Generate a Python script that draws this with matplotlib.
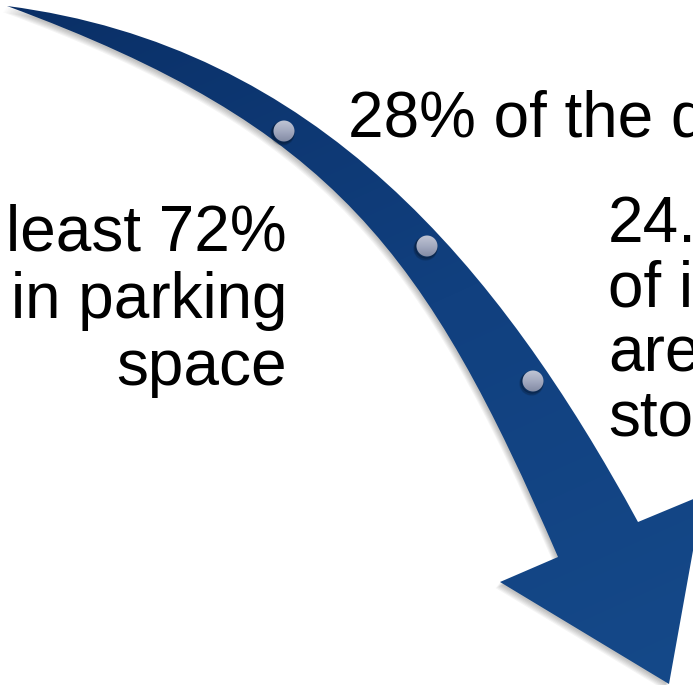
import numpy as np
import matplotlib
matplotlib.use('Agg')
import matplotlib.pyplot as plt
from matplotlib.path import Path
from matplotlib.patches import PathPatch, Circle
from matplotlib.transforms import Affine2D
from matplotlib.colors import LinearSegmentedColormap

W, H = 693, 685

# text of the three callouts
top_line = "28% of the downtown"
left_lines = ["least 72%", "in parking", "space"]
right_lines = ["24.6%", "of its", "area", "storage"]

# arrow geometry (pixel space, y down): two cubic edges and the head
upper_edge = [(7, 6), (317, 46), (499, 267), (638, 522)]
lower_edge = [(7, 6), (335, 127), (426, 253), (558, 557)]
head = [(703, 495), (669, 684), (500, 582)]
dots = [(284, 131), (427, 246), (533, 381)]

verts = (upper_edge + head + lower_edge[::-1][:1]
         + lower_edge[::-1][1:] + [(0, 0)])
codes = ([Path.MOVETO] + [Path.CURVE4] * 3 + [Path.LINETO] * 3
         + [Path.LINETO] + [Path.CURVE4] * 3 + [Path.CLOSEPOLY])
arrow_path = Path(verts, codes)

fig = plt.figure(figsize=(W / 100, H / 100), dpi=100)
ax = fig.add_axes([0, 0, 1, 1])
ax.set_xlim(0, W)
ax.set_ylim(H, 0)
ax.axis('off')

# soft drop shadow
for k in range(6):
    sh = arrow_path.transformed(Affine2D().translate(-1.0 - 0.7 * k, 1.5 + 0.9 * k))
    ax.add_patch(PathPatch(sh, facecolor='black', edgecolor='none',
                           alpha=0.045, zorder=1))

# arrow body with a diagonal gradient
yy, xx = np.mgrid[0:H, 0:W]
grad = (0.45 * xx + yy) / (0.45 * W + H)
cmap = LinearSegmentedColormap.from_list('arrow', ['#0a2f66', '#11407f', '#154989'])
body = PathPatch(arrow_path, facecolor='none', edgecolor='none', zorder=2)
ax.add_patch(body)
im = ax.imshow(grad, cmap=cmap, extent=(0, W, H, 0), origin='upper',
               zorder=2, interpolation='bilinear')
im.set_clip_path(body)

# beads on the arrow
dcmap = LinearSegmentedColormap.from_list('bead', ['#c0c5d4', '#a3aac0', '#838ba4'])
for (cx, cy) in dots:
    ax.add_patch(Circle((cx - 1.5, cy + 2.5), 11.5, color='black', alpha=0.12, zorder=3))
    ax.add_patch(Circle((cx - 1, cy + 1.5), 10.8, color='black', alpha=0.18, zorder=3))
    c = Circle((cx, cy), 10.5, facecolor='none', edgecolor='none', zorder=4)
    ax.add_patch(c)
    g = np.linspace(0, 1, 32)[:, None] * np.ones((1, 4))
    b = ax.imshow(g, cmap=dcmap, extent=(cx - 11, cx + 11, cy + 11, cy - 11),
                  origin='upper', zorder=4, interpolation='bilinear')
    b.set_clip_path(c)

font = dict(family='Liberation Sans', size=46, color='black', va='baseline')
ax.text(348, 136, top_line, ha='left', **font)
for i, line in enumerate(left_lines):
    ax.text(287, 250 + 67.5 * i, line, ha='right', **font)
for i, line in enumerate(right_lines):
    ax.text(608, 242 + 64.5 * i, line, ha='left', **font)

ax.set_xlim(0, W)
ax.set_ylim(H, 0)
fig.savefig('out.png', dpi=100)
